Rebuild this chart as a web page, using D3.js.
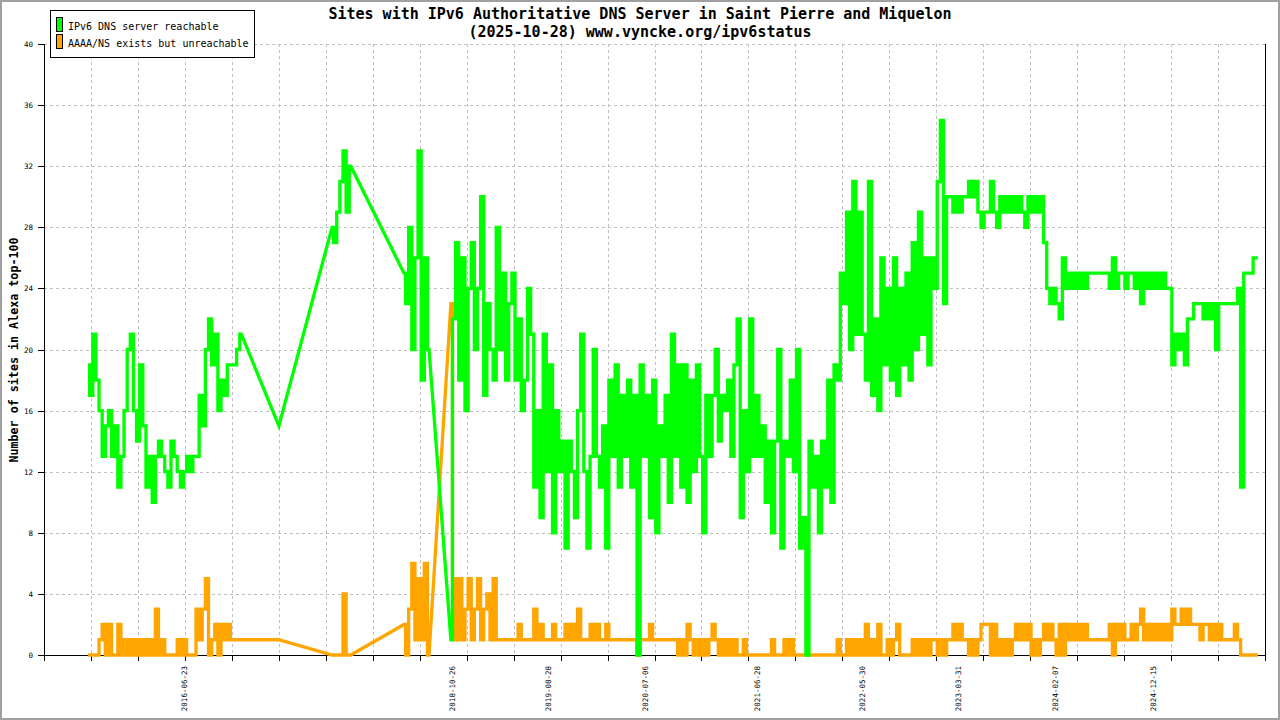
<!DOCTYPE html>
<html>
<head>
<meta charset="utf-8">
<title>Sites with IPv6 Authoritative DNS Server in Saint Pierre and Miquelon</title>
<script src="https://cdn.jsdelivr.net/npm/d3@7/dist/d3.min.js"></script>
<style>
html,body{margin:0;padding:0;background:#fff;}
svg{display:block;}
text{font-family:"DejaVu Sans Mono","Liberation Mono",monospace;fill:#000;}
</style>
</head>
<body>
<svg id="chart" width="1280" height="720"></svg>
<script>
const _ = null; // no sample on that date

const titleLines = ["Sites with IPv6 Authoritative DNS Server in Saint Pierre and Miquelon",
                    "(2025-10-28) www.vyncke.org/ipv6status"];
const yAxisTitle = "Number of sites in Alexa top-100";
const seriesNames = ["IPv6 DNS server reachable", "AAAA/NS exists but unreachable"];
const seriesColors = ["#00ff00", "#ffa500"];
const yTicks = [0, 4, 8, 12, 16, 20, 24, 28, 32, 36, 40];
const xLabelDates = ["2016-06-23", "2018-10-26", "2019-08-28", "2020-07-06", "2021-06-28",
                     "2022-05-30", "2023-03-31", "2024-02-07", "2024-12-15"];
const xTickIntervals = 26;

// samples every 10 days starting at firstSample
const firstSample = "2015-08-20";
const sampleStepDays = 10;

const reachable = [
/*0*/   19,17,21,18,16,13,15,16,13,15,
/*10*/  11,13,16,20,21,16,14,19,15,11,
/*20*/  13,10,13,14,13,12,11,14,13,12,
/*30*/  11,12,13,12,13,13,17,15,20,22,
/*40*/  19,21,16,18,17,19,19,19,20,21,
/*50*/  _,_,_,_,_,_,_,_,_,_,
/*60*/  _,15,_,_,_,_,_,_,_,_,
/*70*/  _,_,_,_,_,_,_,_,28,27,
/*80*/  29,31,33,29,32,_,_,_,_,_,
/*90*/  _,_,_,_,_,_,_,_,_,_,
/*100*/ _,25,23,28,20,26,33,18,26,20,
/*110*/ _,_,_,_,_,_,1,22,27,18,
/*120*/ 26,16,24,27,20,24,30,17,23,20,
/*130*/ 18,28,20,25,18,23,25,18,22,16,
/*140*/ 18,24,21,11,16,9,21,12,19,8,
/*150*/ 16,12,14,7,14,12,9,16,21,12,
/*160*/ 7,13,20,13,11,15,7,18,13,19,
/*170*/ 11,17,13,18,11,17,0,19,13,17,
/*180*/ 9,18,8,15,13,17,10,21,13,19,
/*190*/ 11,19,10,18,12,19,13,8,17,13,
/*200*/ 17,20,14,17,16,18,13,19,22,9,
/*210*/ 16,12,22,13,17,13,15,10,14,8,
/*220*/ 14,20,7,14,13,18,12,20,7,9,
/*230*/ 0,14,11,13,8,14,11,18,10,19,
/*240*/ 18,25,23,29,20,31,21,29,21,18,
/*250*/ 31,17,22,16,26,19,24,18,26,17,
/*260*/ 24,19,25,18,27,20,29,21,26,19,
/*270*/ 26,24,31,35,23,30,30,29,30,29,
/*280*/ 30,30,31,30,31,29,28,29,29,31,
/*290*/ 29,28,30,29,30,29,30,29,30,29,
/*300*/ 28,30,29,30,29,30,27,24,23,24,
/*310*/ 23,22,26,24,25,24,25,24,25,24,
/*320*/ 25,25,25,25,25,25,25,24,26,24,
/*330*/ 25,25,24,25,25,24,25,23,25,24,
/*340*/ 25,24,25,24,25,24,24,19,21,20,
/*350*/ 21,19,22,22,23,23,23,22,23,22,
/*360*/ 23,20,23,23,23,23,23,23,24,11,
/*370*/ 25,25,25,26,26
];

const unreachable = [
/*0*/   0,0,0,0,1,2,0,2,0,0,
/*10*/  2,0,1,0,1,0,1,0,1,0,
/*20*/  1,0,3,0,1,0,0,0,0,1,
/*30*/  0,1,0,0,0,3,1,3,5,0,
/*40*/  1,2,0,2,1,2,1,1,1,1,
/*50*/  _,_,_,_,_,_,_,_,_,_,
/*60*/  _,1,_,_,_,_,_,_,_,_,
/*70*/  _,_,_,_,_,_,_,_,0,0,
/*80*/  0,0,4,0,0,_,_,_,_,_,
/*90*/  _,_,_,_,_,_,_,_,_,_,
/*100*/ _,2,0,3,6,1,5,1,6,0,
/*110*/ _,_,_,_,_,_,23,5,1,5,
/*120*/ 1,3,5,1,3,5,1,3,4,1,
/*130*/ 5,1,1,1,1,1,1,1,2,1,
/*140*/ 1,1,1,3,1,2,1,1,1,2,
/*150*/ 1,1,1,2,1,2,1,3,1,1,
/*160*/ 1,2,1,2,1,1,2,1,1,1,
/*170*/ 1,1,1,1,1,1,0,1,1,1,
/*180*/ 2,1,1,1,1,1,1,1,1,0,
/*190*/ 1,0,2,1,0,1,0,1,0,1,
/*200*/ 2,1,0,1,0,1,0,1,0,0,
/*210*/ 1,0,0,0,0,0,0,0,0,1,
/*220*/ 0,0,0,1,0,1,0,0,0,0,
/*230*/ 0,0,0,0,0,0,0,0,0,0,
/*240*/ 1,0,0,1,0,1,0,1,0,2,
/*250*/ 0,1,0,2,0,0,1,0,1,2,
/*260*/ 0,0,0,0,1,0,1,0,1,0,
/*270*/ 1,1,0,1,0,1,1,2,1,2,
/*280*/ 1,1,0,1,0,1,2,2,2,0,
/*290*/ 2,0,1,0,1,0,1,2,1,2,
/*300*/ 1,2,0,1,0,1,2,1,2,1,
/*310*/ 0,2,0,2,1,2,1,2,1,2,
/*320*/ 1,1,1,1,1,1,1,2,0,2,
/*330*/ 1,2,1,1,2,1,2,3,1,2,
/*340*/ 1,2,1,2,1,2,1,3,2,2,
/*350*/ 3,2,3,2,2,2,1,2,2,1,
/*360*/ 2,1,2,1,1,1,1,2,1,0,
/*370*/ 0,0,0,0,0
];

// ---------------- drawing ----------------
const W = 1280, H = 720;
const P = {left: 44, right: 1265, top: 44, bottom: 655};
const parse = d3.utcParse("%Y-%m-%d");
const start = parse(firstSample);
const dates = reachable.map((v, i) => d3.utcDay.offset(start, i * sampleStepDays));

const x = d3.scaleUtc()
  .domain([d3.utcDay.offset(start, -141), d3.utcDay.offset(start, 3763)])
  .range([P.left, P.right]);
const y = d3.scaleLinear().domain([0, 40]).range([P.bottom, P.top]);
const xt = d3.scaleLinear().domain([0, xTickIntervals]).range([P.left, P.right]);

const svg = d3.select("#chart");
svg.append("rect").attr("width", W).attr("height", H).attr("fill", "#fff");
svg.append("rect").attr("x", 1).attr("y", 1).attr("width", W - 2).attr("height", H - 2)
  .attr("fill", "none").attr("stroke", "#a0a0a0").attr("stroke-width", 2);

const px = v => Math.round(v) + 0.5;
const grid = svg.append("g").attr("stroke", "#c0c0c0").attr("stroke-width", 1)
  .attr("stroke-dasharray", "3,3").attr("shape-rendering", "crispEdges");
grid.selectAll("line.h").data(yTicks.filter(t => t > 0)).join("line").attr("class", "h")
  .attr("x1", P.left).attr("x2", P.right)
  .attr("y1", d => px(y(d))).attr("y2", d => px(y(d)));
grid.selectAll("line.v").data(d3.range(1, xTickIntervals)).join("line").attr("class", "v")
  .attr("y1", P.top).attr("y2", P.bottom)
  .attr("x1", d => px(xt(d))).attr("x2", d => px(xt(d)));

// axes
const ax = svg.append("g").attr("stroke", "#000").attr("stroke-width", 1).attr("shape-rendering", "crispEdges");
ax.append("line").attr("x1", px(P.left)).attr("x2", px(P.left)).attr("y1", P.top).attr("y2", px(P.bottom));
ax.append("line").attr("x1", px(P.right)).attr("x2", px(P.right)).attr("y1", P.top).attr("y2", px(P.bottom));
ax.append("line").attr("x1", P.left).attr("x2", P.right + 1).attr("y1", px(P.bottom)).attr("y2", px(P.bottom));
ax.selectAll("line.yt").data(yTicks).join("line").attr("class", "yt")
  .attr("x1", P.left - 6).attr("x2", P.left)
  .attr("y1", d => px(y(d))).attr("y2", d => px(y(d)));
ax.selectAll("line.xt").data(d3.range(0, xTickIntervals + 1)).join("line").attr("class", "xt")
  .attr("x1", d => px(xt(d))).attr("x2", d => px(xt(d)))
  .attr("y1", P.bottom).attr("y2", P.bottom + 6);

svg.selectAll("text.yl").data(yTicks).join("text").attr("class", "yl")
  .attr("x", P.left - 11).attr("y", d => y(d) + 3)
  .attr("text-anchor", "end").attr("font-size", "7.5px")
  .text(d => d);

svg.selectAll("text.xl").data(xLabelDates).join("text").attr("class", "xl")
  .attr("transform", d => `translate(${x(parse(d)) + 3},${P.bottom + 11}) rotate(-90)`)
  .attr("text-anchor", "end").attr("font-size", "7.5px")
  .text(d => d);

// titles
svg.selectAll("text.title").data(titleLines).join("text").attr("class", "title")
  .attr("x", 640).attr("y", (d, i) => 19 + i * 18)
  .attr("text-anchor", "middle").attr("font-size", "15px").attr("font-weight", "bold")
  .text(d => d);
svg.append("text").attr("transform", "translate(17.5,350) rotate(-90)")
  .attr("text-anchor", "middle").attr("font-size", "11.7px").attr("font-weight", "bold")
  .text(yAxisTitle);

// series: consecutive samples are drawn as steps (daily data look),
// across missing samples the line joins the known points directly
function seriesPoints(arr) {
  const pts = [];
  let prev = null;
  arr.forEach((v, i) => {
    if (v === null) return;
    if (prev === i - 1) {
      const mid = new Date((dates[i - 1].getTime() + dates[i].getTime()) / 2);
      pts.push({date: mid, v: arr[i - 1]}, {date: mid, v});
    }
    pts.push({date: dates[i], v});
    prev = i;
  });
  return pts;
}
const line = d3.line().x(d => x(d.date)).y(d => y(d.v));
[1, 0].forEach(s => {
  svg.append("path").datum(seriesPoints(s === 0 ? reachable : unreachable))
    .attr("fill", "none").attr("stroke", seriesColors[s])
    .attr("stroke-width", 3.3).attr("stroke-linejoin", "miter")
    .attr("d", line);
});

// legend
const lg = svg.append("g");
lg.append("rect").attr("x", 50.5).attr("y", 10.5).attr("width", 204).attr("height", 47)
  .attr("fill", "#fff").attr("stroke", "#000").attr("stroke-width", 1);
seriesNames.forEach((name, i) => {
  lg.append("rect").attr("x", 56.5).attr("y", 17.5 + i * 17).attr("width", 6).attr("height", 14)
    .attr("fill", seriesColors[i]).attr("stroke", "#000").attr("stroke-width", 1);
  lg.append("text").attr("x", 68).attr("y", 29.5 + i * 17).attr("font-size", "10px").text(name);
});
</script>
</body>
</html>
